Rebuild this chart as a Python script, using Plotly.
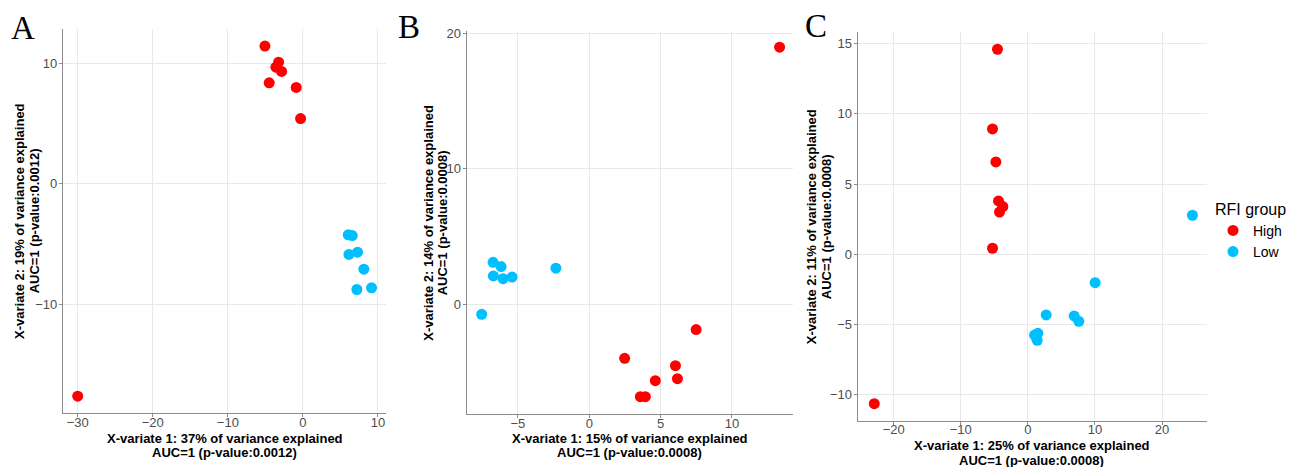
import plotly.graph_objects as go

W, H = 1305, 467

# ---------------- data ----------------
groups = ["High", "Low"]
colors = {"High": "#FF0000", "Low": "#00BFFF"}

# Panel A
a_high_x = [-5.06, -3.24, -3.6, -2.84, -4.49, -0.89, -0.31, -30.0]
a_high_y = [11.43, 10.1, 9.68, 9.33, 8.38, 8.0, 5.42, -17.62]
a_low_x = [6.04, 6.57, 6.13, 7.28, 8.12, 7.19, 9.14]
a_low_y = [-4.23, -4.29, -5.86, -5.67, -7.08, -8.77, -8.63]

# Panel B
b_high_x = [13.34, 7.49, 2.48, 6.04, 6.18, 4.63, 3.58, 3.93]
b_high_y = [18.97, -1.87, -3.99, -4.53, -5.49, -5.64, -6.82, -6.82]
b_low_x = [-7.54, -6.74, -6.18, -6.72, -6.04, -5.41, -2.34]
b_low_y = [-0.74, 3.1, 2.78, 2.09, 1.89, 2.01, 2.66]

# Panel C
c_high_x = [-4.53, -5.27, -4.77, -4.38, -3.73, -4.23, -5.27, -22.9]
c_high_y = [14.6, 8.93, 6.58, 3.8, 3.4, 3.01, 0.43, -10.64]
c_low_x = [24.53, 10.03, 2.73, 6.9, 7.6, 1.49, 0.99, 1.39]
c_low_y = [2.78, -2.02, -4.32, -4.39, -4.77, -5.63, -5.75, -6.13]

panel_letters = ["A", "B", "C"]
x_titles = [
    ("X-variate 1: 37% of variance explained", "AUC=1 (p-value:0.0012)"),
    ("X-variate 1: 15% of variance explained", "AUC=1 (p-value:0.0008)"),
    ("X-variate 1: 25% of variance explained", "AUC=1 (p-value:0.0008)"),
]
y_titles = [
    ("X-variate 2: 19% of variance explained", "AUC=1 (p-value:0.0012)"),
    ("X-variate 2: 14% of variance explained", "AUC=1 (p-value:0.0008)"),
    ("X-variate 2: 11% of variance explained", "AUC=1 (p-value:0.0008)"),
]
x_ticks = [[-30, -20, -10, 0, 10], [-5, 0, 5, 10], [-20, -10, 0, 10, 20]]
y_ticks = [[-10, 0, 10], [0, 10, 20], [-10, -5, 0, 5, 10, 15]]
x_ranges = [[-31.96, 11.07], [-8.59, 14.3], [-25.37, 26.75]]
y_ranges = [[-19.02, 12.85], [-8.12, 20.19], [-11.85, 15.85]]

# ---------------- layout geometry (pixels) ----------------
# (left, right, top, bottom) of each plotting area
boxes = [(63, 386, 29, 413), (466.7, 793.3, 30.7, 414.3), (857.7, 1207.3, 31.7, 420.7)]
xt_pos = [(224.5, 438.0, 452.0), (629.5, 438.5, 452.8), (1031.5, 445.8, 460.0)]
yt_pos = [(19.0, 34.3, 221.0), (427.7, 442.3, 223.0), (811.7, 826.7, 226.5)]
letter_pos = [(22.5, 27.5), (409, 27), (816, 26)]

def px(x):
    return x / W

def py(y):
    return 1 - y / H

fig = go.Figure()

data = [
    (a_high_x, a_high_y, a_low_x, a_low_y),
    (b_high_x, b_high_y, b_low_x, b_low_y),
    (c_high_x, c_high_y, c_low_x, c_low_y),
]

for i, (hx, hy, lx, ly) in enumerate(data):
    sfx = "" if i == 0 else str(i + 1)
    for g, xs, ys in (("High", hx, hy), ("Low", lx, ly)):
        fig.add_trace(go.Scatter(
            x=xs, y=ys, mode="markers", name=g,
            marker=dict(color=colors[g], size=11, line=dict(width=0)),
            xaxis="x" + sfx, yaxis="y" + sfx,
            showlegend=(i == 2), legendgroup=g,
        ))

axis_common = dict(
    showgrid=True, gridcolor="#E8E8E8", gridwidth=1,
    zeroline=False, showline=True, linecolor="#8C8C8C", linewidth=1.2,
    ticks="outside", ticklen=3, tickcolor="#8C8C8C",
    tickfont=dict(family="Liberation Sans, Arial", size=13, color="#4D4D4D"),
    automargin=False,
)

for i in range(3):
    sfx = "" if i == 0 else str(i + 1)
    l, r, t, b = boxes[i]
    fig.update_layout(**{
        "xaxis" + sfx: dict(
            axis_common, domain=[px(l), px(r)], range=x_ranges[i],
            tickvals=x_ticks[i], anchor="y" + sfx, ticklabelstandoff=-6,
        ),
        "yaxis" + sfx: dict(
            axis_common, domain=[py(b), py(t)], range=y_ranges[i],
            tickvals=y_ticks[i], anchor="x" + sfx, ticklabelstandoff=-1,
        ),
    })

annotations = []
title_font = dict(family="Liberation Sans, Arial", size=13, color="#000000")
for i in range(3):
    cx, y1, y2 = xt_pos[i]
    for txt, yy in ((x_titles[i][0], y1), (x_titles[i][1], y2)):
        annotations.append(dict(
            text="<b>" + txt + "</b>", x=px(cx), y=py(yy), xref="paper", yref="paper",
            xanchor="center", yanchor="middle", showarrow=False, font=title_font,
        ))
    x1, x2, cy = yt_pos[i]
    for txt, xx in ((y_titles[i][0], x1), (y_titles[i][1], x2)):
        annotations.append(dict(
            text="<b>" + txt + "</b>", x=px(xx), y=py(cy), xref="paper", yref="paper",
            xanchor="center", yanchor="middle", showarrow=False, font=title_font,
            textangle=-90,
        ))
    lx, ly = letter_pos[i]
    annotations.append(dict(
        text=panel_letters[i], x=px(lx), y=py(ly), xref="paper", yref="paper",
        xanchor="center", yanchor="middle", showarrow=False,
        font=dict(family="Liberation Serif, Times New Roman", size=33, color="#000000"),
    ))

fig.update_layout(
    width=W, height=H,
    margin=dict(l=0, r=0, t=0, b=0),
    paper_bgcolor="white", plot_bgcolor="white",
    annotations=annotations,
    legend=dict(
        title=dict(text="RFI group", font=dict(family="Liberation Sans, Arial", size=16, color="#000000")),
        font=dict(family="Liberation Sans, Arial", size=14, color="#000000"),
        x=px(1213), y=py(194), xanchor="left", yanchor="top",
        bgcolor="rgba(0,0,0,0)", itemwidth=30, tracegroupgap=0,
    ),
)

fig.write_html(
    "out.html",
    config={"displayModeBar": False},
    post_script="document.body.style.margin='0';document.body.style.overflow='hidden';",
)
